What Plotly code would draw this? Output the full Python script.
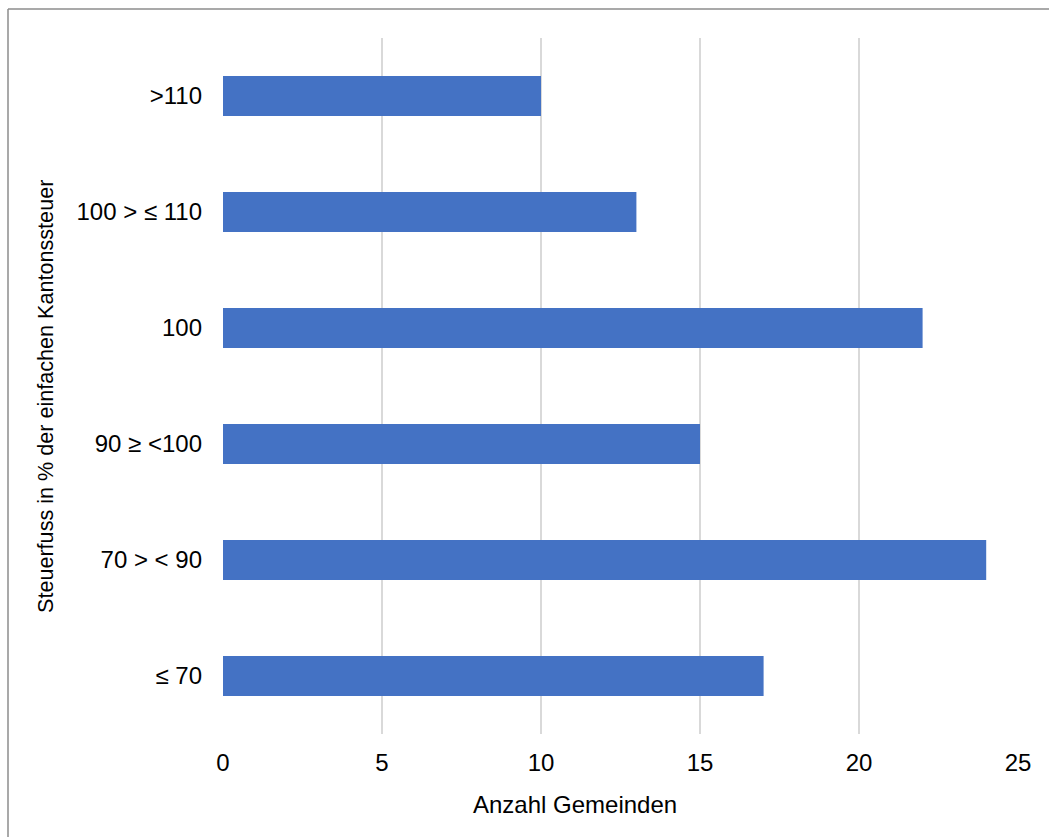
import plotly.graph_objects as go

categories = ["≤ 70", "70 > < 90", "90 ≥ <100", "100", "100 > ≤ 110", ">110"]
values = [17, 24, 15, 22, 13, 10]
x_ticks = [0, 5, 10, 15, 20, 25]

x_title = "Anzahl Gemeinden"
y_title = "Steuerfuss in % der einfachen Kantonssteuer"

FONT = "Liberation Sans, Arial, sans-serif"
W, H = 1049, 837
L, R, T, B = 223, 31, 38, 103
pw, ph = W - L - R, H - T - B

def px_x(p):
    return (p - L) / pw

def px_y(p):
    return (H - B - p) / ph

fig = go.Figure(go.Bar(
    x=values, y=categories, orientation="h",
    marker=dict(color="#4472C4", line=dict(width=0)),
    width=0.345,
))

fig.update_layout(
    width=W, height=H,
    margin=dict(l=L, r=R, t=T, b=B),
    paper_bgcolor="white", plot_bgcolor="white",
    font=dict(family=FONT, size=24, color="#000000"),
    showlegend=False,
    xaxis=dict(
        range=[0, 25], tickvals=x_ticks, ticktext=[str(v) for v in x_ticks],
        showgrid=True, gridcolor="#D9D9D9", gridwidth=2,
        zeroline=False, showline=False, ticks="",
        ticklabelstandoff=12, tickfont=dict(size=24),
    ),
    yaxis=dict(
        categoryorder="array", categoryarray=categories,
        range=[-0.5, 5.5],
        showgrid=False, zeroline=False, showline=False, ticks="",
        ticklabelstandoff=20, tickfont=dict(size=24),
    ),
    annotations=[
        dict(text=x_title, xref="paper", yref="paper",
             x=px_x(575), y=px_y(804), xanchor="center", yanchor="middle",
             showarrow=False, font=dict(size=24)),
        dict(text=y_title, xref="paper", yref="paper", textangle=-90,
             x=px_x(45), y=px_y(397), xanchor="center", yanchor="middle",
             showarrow=False, font=dict(size=21.6)),
    ],
    shapes=[
        dict(type="line", xref="paper", yref="paper",
             x0=px_x(8), x1=px_x(1060), y0=px_y(9), y1=px_y(9),
             line=dict(color="#8C8C8C", width=1.5)),
        dict(type="line", xref="paper", yref="paper",
             x0=px_x(8), x1=px_x(8), y0=px_y(9), y1=px_y(850),
             line=dict(color="#8C8C8C", width=1.5)),
    ],
)

fig.write_html("out.html")
